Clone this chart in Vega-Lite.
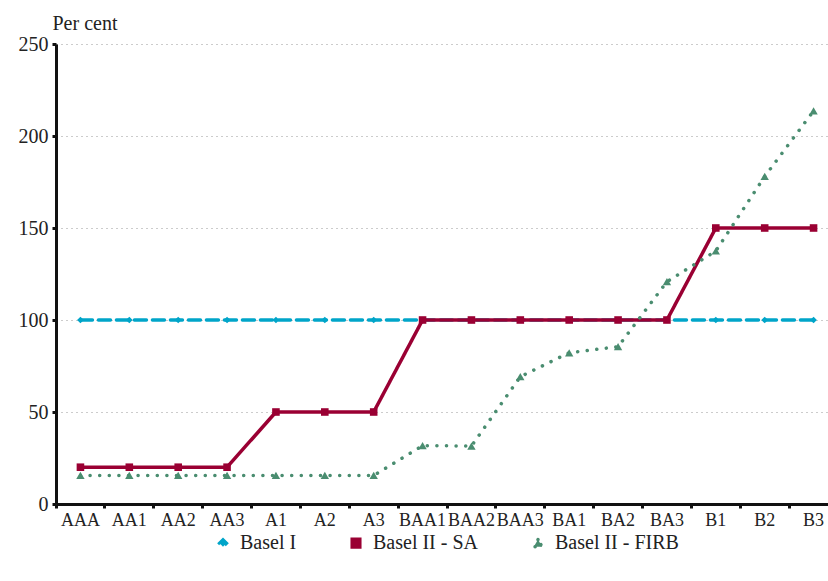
{
  "$schema": "https://vega.github.io/schema/vega-lite/v6.json",
  "autosize": "none",
  "width": 772,
  "height": 460,
  "padding": {"left": 56, "top": 44, "right": 0, "bottom": 77},
  "background": "white",
  "config": {
    "view": {"stroke": null},
    "font": "Liberation Serif",
    "legend": {"labelFont": "Liberation Serif", "labelFontSize": 20}
  },
  "data": {
    "values": [
      {"series": "Basel I", "rating": "AAA", "value": 100},
      {"series": "Basel I", "rating": "AA1", "value": 100},
      {"series": "Basel I", "rating": "AA2", "value": 100},
      {"series": "Basel I", "rating": "AA3", "value": 100},
      {"series": "Basel I", "rating": "A1", "value": 100},
      {"series": "Basel I", "rating": "A2", "value": 100},
      {"series": "Basel I", "rating": "A3", "value": 100},
      {"series": "Basel I", "rating": "BAA1", "value": 100},
      {"series": "Basel I", "rating": "BAA2", "value": 100},
      {"series": "Basel I", "rating": "BAA3", "value": 100},
      {"series": "Basel I", "rating": "BA1", "value": 100},
      {"series": "Basel I", "rating": "BA2", "value": 100},
      {"series": "Basel I", "rating": "BA3", "value": 100},
      {"series": "Basel I", "rating": "B1", "value": 100},
      {"series": "Basel I", "rating": "B2", "value": 100},
      {"series": "Basel I", "rating": "B3", "value": 100},
      {"series": "Basel II - SA", "rating": "AAA", "value": 20},
      {"series": "Basel II - SA", "rating": "AA1", "value": 20},
      {"series": "Basel II - SA", "rating": "AA2", "value": 20},
      {"series": "Basel II - SA", "rating": "AA3", "value": 20},
      {"series": "Basel II - SA", "rating": "A1", "value": 50},
      {"series": "Basel II - SA", "rating": "A2", "value": 50},
      {"series": "Basel II - SA", "rating": "A3", "value": 50},
      {"series": "Basel II - SA", "rating": "BAA1", "value": 100},
      {"series": "Basel II - SA", "rating": "BAA2", "value": 100},
      {"series": "Basel II - SA", "rating": "BAA3", "value": 100},
      {"series": "Basel II - SA", "rating": "BA1", "value": 100},
      {"series": "Basel II - SA", "rating": "BA2", "value": 100},
      {"series": "Basel II - SA", "rating": "BA3", "value": 100},
      {"series": "Basel II - SA", "rating": "B1", "value": 150},
      {"series": "Basel II - SA", "rating": "B2", "value": 150},
      {"series": "Basel II - SA", "rating": "B3", "value": 150},
      {"series": "Basel II - FIRB", "rating": "AAA", "value": 15.5},
      {"series": "Basel II - FIRB", "rating": "AA1", "value": 15.5},
      {"series": "Basel II - FIRB", "rating": "AA2", "value": 15.5},
      {"series": "Basel II - FIRB", "rating": "AA3", "value": 15.5},
      {"series": "Basel II - FIRB", "rating": "A1", "value": 15.5},
      {"series": "Basel II - FIRB", "rating": "A2", "value": 15.5},
      {"series": "Basel II - FIRB", "rating": "A3", "value": 15.5},
      {"series": "Basel II - FIRB", "rating": "BAA1", "value": 31.7},
      {"series": "Basel II - FIRB", "rating": "BAA2", "value": 31.5},
      {"series": "Basel II - FIRB", "rating": "BAA3", "value": 69.2},
      {"series": "Basel II - FIRB", "rating": "BA1", "value": 82.2},
      {"series": "Basel II - FIRB", "rating": "BA2", "value": 85.5},
      {"series": "Basel II - FIRB", "rating": "BA3", "value": 120.8},
      {"series": "Basel II - FIRB", "rating": "B1", "value": 137.5},
      {"series": "Basel II - FIRB", "rating": "B2", "value": 178},
      {"series": "Basel II - FIRB", "rating": "B3", "value": 213.6}
    ]
  },
  "encoding": {
    "x": {
      "field": "rating",
      "type": "nominal",
      "sort": null,
      "scale": {"type": "band", "paddingInner": 0, "paddingOuter": 0, "range": [0, 782]},
      "axis": {
        "title": null,
        "bandPosition": 0,
        "labelAngle": 0,
        "labelFont": "Liberation Serif",
        "labelFontSize": 18,
        "labelColor": "#222",
        "labelPadding": 3,
        "labelBaseline": "top",
        "domainColor": "#111",
        "domainWidth": 3,
        "tickColor": "#111",
        "tickWidth": 3,
        "tickSize": 4,
        "grid": false
      }
    },
    "y": {
      "field": "value",
      "type": "quantitative",
      "scale": {"domain": [0, 250], "nice": false, "zero": true},
      "axis": {
        "title": "Per cent",
        "titleAngle": 0,
        "titleX": -4,
        "titleY": -15,
        "titleAlign": "left",
        "titleBaseline": "alphabetic",
        "titleFont": "Liberation Serif",
        "titleFontSize": 20,
        "titleFontWeight": "normal",
        "titleColor": "#222",
        "values": [0, 50, 100, 150, 200, 250],
        "labelFont": "Liberation Serif",
        "labelFontSize": 20,
        "labelColor": "#222",
        "labelPadding": 4,
        "domainColor": "#111",
        "domainWidth": 3,
        "tickColor": "#111",
        "tickWidth": 3,
        "tickSize": 4,
        "grid": true,
        "gridColor": "#999",
        "gridDash": [1, 4],
        "gridWidth": 1
      }
    }
  },
  "layer": [
    {
      "mark": {"type": "line", "strokeCap": "round"},
      "encoding": {
        "color": {
          "field": "series",
          "type": "nominal",
          "scale": {
            "domain": ["Basel I", "Basel II - SA", "Basel II - FIRB"],
            "range": ["#00a5c9", "#9a0033", "#4a8d70"]
          },
          "legend": {
            "orient": "none",
            "legendX": 157,
            "legendY": 489,
            "direction": "horizontal",
            "title": null,
            "labelFont": "Liberation Serif",
            "labelFontSize": 20,
            "labelColor": "#222",
            "labelOffset": 7,
            "symbolSize": 900,
            "symbolStrokeWidth": 3.5,
            "columnPadding": 48,
            "encode": {
              "symbols": {
                "update": {
                  "shape": {"signal": "datum.value == 'Basel I' ? 'M-1,0H1M-0.3,0L0,-0.22L0.3,0L0,0.22Z' : datum.value == 'Basel II - SA' ? 'M-1,0H1M-0.27,-0.27H0.27V0.27H-0.27Z' : 'M-1,0H1M-0.27,0.22L0,-0.27L0.27,0.22Z'"},
                  "strokeDash": {"signal": "datum.value == 'Basel I' ? [10, 4] : datum.value == 'Basel II - SA' ? [] : [0.1, 8]"},
                  "strokeCap": {"signal": "datum.value == 'Basel II - FIRB' ? 'round' : 'butt'"},
                  "fill": {"scale": "color", "field": "value"},
                  "stroke": {"scale": "color", "field": "value"},
                  "strokeWidth": {"signal": "datum.value == 'Basel II - FIRB' ? 4.5 : 3.5"},
                  "opacity": {"value": 1}
                }
              }
            }
          }
        },
        "strokeDash": {
          "field": "series",
          "type": "nominal",
          "scale": {
            "domain": ["Basel I", "Basel II - SA", "Basel II - FIRB"],
            "range": [[12, 6], [1, 0], [0.1, 9.5]]
          },
          "legend": null
        },
        "strokeWidth": {
          "field": "series",
          "type": "nominal",
          "scale": {
            "domain": ["Basel I", "Basel II - SA", "Basel II - FIRB"],
            "range": [3.5, 3.5, 4.5]
          },
          "legend": null
        }
      }
    },
    {
      "mark": {"type": "point", "filled": true, "opacity": 1},
      "encoding": {
        "color": {
          "field": "series",
          "type": "nominal",
          "legend": null
        },
        "shape": {
          "field": "series",
          "type": "nominal",
          "scale": {
            "domain": ["Basel I", "Basel II - SA", "Basel II - FIRB"],
            "range": ["diamond", "square", "triangle-up"]
          },
          "legend": null
        },
        "size": {
          "field": "series",
          "type": "nominal",
          "scale": {
            "domain": ["Basel I", "Basel II - SA", "Basel II - FIRB"],
            "range": [45, 70, 70]
          },
          "legend": null
        }
      }
    }
  ]
}
